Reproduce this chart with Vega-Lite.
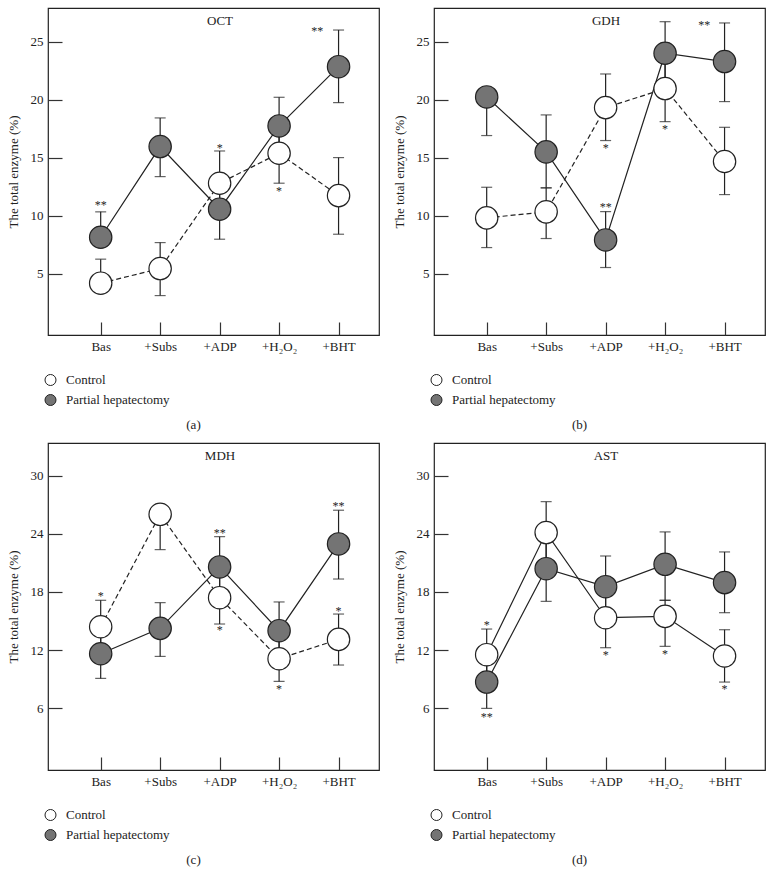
{
  "$schema": "https://vega.github.io/schema/vega-lite/v6.json",
  "background": "white",
  "padding": {"left": 6, "top": 7, "right": 0, "bottom": 0},
  "datasets": {
    "pts": [
      {"p":"a","g":"Control","xi":1,"v":4.17,"lo":4.17,"hi":6.24},
      {"p":"a","g":"Control","xi":2,"v":5.43,"lo":3.1,"hi":7.67},
      {"p":"a","g":"Control","xi":3,"v":12.79,"lo":10.0,"hi":15.57},
      {"p":"a","g":"Control","xi":4,"v":15.37,"lo":12.79,"hi":17.9},
      {"p":"a","g":"Control","xi":5,"v":11.72,"lo":8.39,"hi":15.0},
      {"p":"a","g":"Partial hepatectomy","xi":1,"v":8.13,"lo":8.13,"hi":10.32},
      {"p":"a","g":"Partial hepatectomy","xi":2,"v":15.95,"lo":13.36,"hi":18.42},
      {"p":"a","g":"Partial hepatectomy","xi":3,"v":10.55,"lo":7.96,"hi":13.1},
      {"p":"a","g":"Partial hepatectomy","xi":4,"v":17.73,"lo":15.3,"hi":20.2},
      {"p":"a","g":"Partial hepatectomy","xi":5,"v":22.84,"lo":19.74,"hi":26.0},
      {"p":"b","g":"Control","xi":1,"v":9.8,"lo":7.24,"hi":12.44},
      {"p":"b","g":"Control","xi":2,"v":10.32,"lo":8.02,"hi":12.39},
      {"p":"b","g":"Control","xi":3,"v":19.31,"lo":16.47,"hi":22.21},
      {"p":"b","g":"Control","xi":4,"v":20.95,"lo":18.1,"hi":23.5},
      {"p":"b","g":"Control","xi":5,"v":14.66,"lo":11.81,"hi":17.61},
      {"p":"b","g":"Partial hepatectomy","xi":1,"v":20.23,"lo":16.9,"hi":20.23},
      {"p":"b","g":"Partial hepatectomy","xi":2,"v":15.49,"lo":12.39,"hi":18.68},
      {"p":"b","g":"Partial hepatectomy","xi":3,"v":7.9,"lo":5.52,"hi":10.34},
      {"p":"b","g":"Partial hepatectomy","xi":4,"v":24.0,"lo":21.3,"hi":26.72},
      {"p":"b","g":"Partial hepatectomy","xi":5,"v":23.28,"lo":19.83,"hi":26.61},
      {"p":"c","g":"Control","xi":1,"v":14.41,"lo":12.2,"hi":17.14},
      {"p":"c","g":"Control","xi":2,"v":26.03,"lo":22.38,"hi":26.03},
      {"p":"c","g":"Control","xi":3,"v":17.41,"lo":14.69,"hi":20.0},
      {"p":"c","g":"Control","xi":4,"v":11.1,"lo":8.76,"hi":13.4},
      {"p":"c","g":"Control","xi":5,"v":13.1,"lo":10.45,"hi":15.72},
      {"p":"c","g":"Partial hepatectomy","xi":1,"v":11.62,"lo":9.07,"hi":14.2},
      {"p":"c","g":"Partial hepatectomy","xi":2,"v":14.24,"lo":11.34,"hi":16.9},
      {"p":"c","g":"Partial hepatectomy","xi":3,"v":20.59,"lo":17.5,"hi":23.72},
      {"p":"c","g":"Partial hepatectomy","xi":4,"v":14.0,"lo":11.5,"hi":16.97},
      {"p":"c","g":"Partial hepatectomy","xi":5,"v":22.97,"lo":19.34,"hi":26.45},
      {"p":"d","g":"Control","xi":1,"v":11.52,"lo":9.5,"hi":14.17},
      {"p":"d","g":"Control","xi":2,"v":24.14,"lo":21.0,"hi":27.34},
      {"p":"d","g":"Control","xi":3,"v":15.34,"lo":12.24,"hi":18.0},
      {"p":"d","g":"Control","xi":4,"v":15.48,"lo":12.38,"hi":17.14},
      {"p":"d","g":"Control","xi":5,"v":11.38,"lo":8.69,"hi":14.1},
      {"p":"d","g":"Partial hepatectomy","xi":1,"v":8.69,"lo":5.97,"hi":10.5},
      {"p":"d","g":"Partial hepatectomy","xi":2,"v":20.41,"lo":17.03,"hi":23.5},
      {"p":"d","g":"Partial hepatectomy","xi":3,"v":18.55,"lo":16.0,"hi":21.72},
      {"p":"d","g":"Partial hepatectomy","xi":4,"v":20.86,"lo":17.14,"hi":24.21},
      {"p":"d","g":"Partial hepatectomy","xi":5,"v":18.97,"lo":15.86,"hi":22.14}
    ],
    "stars": [
      {"p":"a","xi":1,"v":11.06,"t":"**"},
      {"p":"a","xi":3,"v":16.03,"t":"*"},
      {"p":"a","xi":4,"v":12.27,"t":"*"},
      {"p":"a","xi":4.64,"v":26.06,"t":"**"},
      {"p":"b","xi":3,"v":16.0,"t":"*"},
      {"p":"b","xi":4,"v":17.6,"t":"*"},
      {"p":"b","xi":3,"v":10.9,"t":"**"},
      {"p":"b","xi":4.66,"v":26.58,"t":"**"},
      {"p":"c","xi":1,"v":17.76,"t":"*"},
      {"p":"c","xi":3,"v":24.28,"t":"**"},
      {"p":"c","xi":3,"v":14.24,"t":"*"},
      {"p":"c","xi":4,"v":8.14,"t":"*"},
      {"p":"c","xi":5,"v":27.07,"t":"**"},
      {"p":"c","xi":5,"v":16.28,"t":"*"},
      {"p":"d","xi":1,"v":14.83,"t":"*"},
      {"p":"d","xi":1,"v":5.28,"t":"**"},
      {"p":"d","xi":3,"v":11.72,"t":"*"},
      {"p":"d","xi":4,"v":11.83,"t":"*"},
      {"p":"d","xi":5,"v":8.17,"t":"*"}
    ]
  },
  "columns": 2,
  "spacing": {"row": 108, "column": 55},
  "bounds": "flush",
  "resolve": {
    "scale": {"x": "independent", "y": "independent", "fill": "independent"},
    "axis": {"x": "independent", "y": "independent"},
    "legend": {"fill": "independent"}
  },
  "concat": [
    {
      "width": 331, "height": 327,
      "title": {"text": "OCT", "offset": -26, "baseline": "middle", "dx": 6.5, "frame": "group"},
      "encoding": {
        "x": {"field": "xi", "type": "quantitative", "scale": {"domain": [0.114, 5.68], "nice": false, "zero": false},
              "axis": {"values": [1,2,3,4,5], "labelExpr": "['','Bas','+Subs','+ADP','+H₂O₂','+BHT'][datum.value]", "title": "(a)", "titleX": 145, "titleY": 89, "titleBaseline": "middle"}},
        "y": {"field": "v", "type": "quantitative", "scale": {"domain": [-0.3, 27.9], "nice": false, "zero": false},
              "axis": {"values": [5,10,15,20,25], "title": "The total enzyme (%)"}}
      },
      "layer": [
        {"data": {"name": "pts"}, "transform": [{"filter": "datum.p === 'a'"}], "mark": {"type": "rule", "color": "#222", "strokeWidth": 1.2},
         "encoding": {"y": {"field": "lo", "type": "quantitative", "scale": {"domain": [-0.3, 27.9], "nice": false, "zero": false}}, "y2": {"field": "hi"}}},
        {"data": {"name": "pts"}, "transform": [{"filter": "datum.p === 'a'"}], "mark": {"type": "tick", "orient": "horizontal", "size": 11, "thickness": 1.2, "color": "#222"},
         "encoding": {"y": {"field": "lo", "type": "quantitative", "scale": {"domain": [-0.3, 27.9], "nice": false, "zero": false}}}},
        {"data": {"name": "pts"}, "transform": [{"filter": "datum.p === 'a'"}], "mark": {"type": "tick", "orient": "horizontal", "size": 11, "thickness": 1.2, "color": "#222"},
         "encoding": {"y": {"field": "hi", "type": "quantitative", "scale": {"domain": [-0.3, 27.9], "nice": false, "zero": false}}}},
        {"data": {"name": "pts"}, "transform": [{"filter": "datum.p === 'a' && datum.g === 'Control'"}], "mark": {"type": "line", "color": "#222", "strokeWidth": 1.2, "strokeDash": [5, 3]}, "encoding": {}},
        {"data": {"name": "pts"}, "transform": [{"filter": "datum.p === 'a' && datum.g !== 'Control'"}], "mark": {"type": "line", "color": "#222", "strokeWidth": 1.2}, "encoding": {}},
        {"data": {"name": "pts"}, "transform": [{"filter": "datum.p === 'a'"}], "mark": {"type": "point", "shape": "circle", "filled": true, "size": 500, "stroke": "#222", "strokeWidth": 1.2, "opacity": 1},
         "encoding": {"fill": {"field": "g", "type": "nominal", "scale": {"domain": ["Control", "Partial hepatectomy"], "range": ["#ffffff", "#747474"]},
                               "legend": {"title": null, "orient": "none", "legendX": -4, "legendY": 365.5}}}},
        {"data": {"name": "stars"}, "transform": [{"filter": "datum.p === 'a'"}], "mark": {"type": "text", "baseline": "alphabetic", "dy": 6, "fontSize": 12, "fill": "#222"},
         "encoding": {"text": {"field": "t"}}}
      ]
    },
    {
      "width": 331, "height": 327,
      "title": {"text": "GDH", "offset": -26, "baseline": "middle", "dx": 6.5, "frame": "group"},
      "encoding": {
        "x": {"field": "xi", "type": "quantitative", "scale": {"domain": [0.114, 5.68], "nice": false, "zero": false},
              "axis": {"values": [1,2,3,4,5], "labelExpr": "['','Bas','+Subs','+ADP','+H₂O₂','+BHT'][datum.value]", "title": "(b)", "titleX": 145, "titleY": 89, "titleBaseline": "middle"}},
        "y": {"field": "v", "type": "quantitative", "scale": {"domain": [-0.3, 27.9], "nice": false, "zero": false},
              "axis": {"values": [5,10,15,20,25], "title": "The total enzyme (%)"}}
      },
      "layer": [
        {"data": {"name": "pts"}, "transform": [{"filter": "datum.p === 'b'"}], "mark": {"type": "rule", "color": "#222", "strokeWidth": 1.2},
         "encoding": {"y": {"field": "lo", "type": "quantitative", "scale": {"domain": [-0.3, 27.9], "nice": false, "zero": false}}, "y2": {"field": "hi"}}},
        {"data": {"name": "pts"}, "transform": [{"filter": "datum.p === 'b'"}], "mark": {"type": "tick", "orient": "horizontal", "size": 11, "thickness": 1.2, "color": "#222"},
         "encoding": {"y": {"field": "lo", "type": "quantitative", "scale": {"domain": [-0.3, 27.9], "nice": false, "zero": false}}}},
        {"data": {"name": "pts"}, "transform": [{"filter": "datum.p === 'b'"}], "mark": {"type": "tick", "orient": "horizontal", "size": 11, "thickness": 1.2, "color": "#222"},
         "encoding": {"y": {"field": "hi", "type": "quantitative", "scale": {"domain": [-0.3, 27.9], "nice": false, "zero": false}}}},
        {"data": {"name": "pts"}, "transform": [{"filter": "datum.p === 'b' && datum.g === 'Control'"}], "mark": {"type": "line", "color": "#222", "strokeWidth": 1.2, "strokeDash": [5, 3]}, "encoding": {}},
        {"data": {"name": "pts"}, "transform": [{"filter": "datum.p === 'b' && datum.g !== 'Control'"}], "mark": {"type": "line", "color": "#222", "strokeWidth": 1.2}, "encoding": {}},
        {"data": {"name": "pts"}, "transform": [{"filter": "datum.p === 'b'"}], "mark": {"type": "point", "shape": "circle", "filled": true, "size": 500, "stroke": "#222", "strokeWidth": 1.2, "opacity": 1},
         "encoding": {"fill": {"field": "g", "type": "nominal", "scale": {"domain": ["Control", "Partial hepatectomy"], "range": ["#ffffff", "#747474"]},
                               "legend": {"title": null, "orient": "none", "legendX": -4, "legendY": 365.5}}}},
        {"data": {"name": "stars"}, "transform": [{"filter": "datum.p === 'b'"}], "mark": {"type": "text", "baseline": "alphabetic", "dy": 6, "fontSize": 12, "fill": "#222"},
         "encoding": {"text": {"field": "t"}}}
      ]
    },
    {
      "width": 331, "height": 327,
      "title": {"text": "MDH", "offset": -26, "baseline": "middle", "dx": 6.5, "frame": "group"},
      "encoding": {
        "x": {"field": "xi", "type": "quantitative", "scale": {"domain": [0.114, 5.68], "nice": false, "zero": false},
              "axis": {"values": [1,2,3,4,5], "labelExpr": "['','Bas','+Subs','+ADP','+H₂O₂','+BHT'][datum.value]", "title": "(c)", "titleX": 145, "titleY": 89, "titleBaseline": "middle"}},
        "y": {"field": "v", "type": "quantitative", "scale": {"domain": [-0.4, 33.4], "nice": false, "zero": false},
              "axis": {"values": [6,12,18,24,30], "title": "The total enzyme (%)"}}
      },
      "layer": [
        {"data": {"name": "pts"}, "transform": [{"filter": "datum.p === 'c'"}], "mark": {"type": "rule", "color": "#222", "strokeWidth": 1.2},
         "encoding": {"y": {"field": "lo", "type": "quantitative", "scale": {"domain": [-0.4, 33.4], "nice": false, "zero": false}}, "y2": {"field": "hi"}}},
        {"data": {"name": "pts"}, "transform": [{"filter": "datum.p === 'c'"}], "mark": {"type": "tick", "orient": "horizontal", "size": 11, "thickness": 1.2, "color": "#222"},
         "encoding": {"y": {"field": "lo", "type": "quantitative", "scale": {"domain": [-0.4, 33.4], "nice": false, "zero": false}}}},
        {"data": {"name": "pts"}, "transform": [{"filter": "datum.p === 'c'"}], "mark": {"type": "tick", "orient": "horizontal", "size": 11, "thickness": 1.2, "color": "#222"},
         "encoding": {"y": {"field": "hi", "type": "quantitative", "scale": {"domain": [-0.4, 33.4], "nice": false, "zero": false}}}},
        {"data": {"name": "pts"}, "transform": [{"filter": "datum.p === 'c' && datum.g === 'Control'"}], "mark": {"type": "line", "color": "#222", "strokeWidth": 1.2, "strokeDash": [5, 3]}, "encoding": {}},
        {"data": {"name": "pts"}, "transform": [{"filter": "datum.p === 'c' && datum.g !== 'Control'"}], "mark": {"type": "line", "color": "#222", "strokeWidth": 1.2}, "encoding": {}},
        {"data": {"name": "pts"}, "transform": [{"filter": "datum.p === 'c'"}], "mark": {"type": "point", "shape": "circle", "filled": true, "size": 500, "stroke": "#222", "strokeWidth": 1.2, "opacity": 1},
         "encoding": {"fill": {"field": "g", "type": "nominal", "scale": {"domain": ["Control", "Partial hepatectomy"], "range": ["#ffffff", "#747474"]},
                               "legend": {"title": null, "orient": "none", "legendX": -4, "legendY": 365.5}}}},
        {"data": {"name": "stars"}, "transform": [{"filter": "datum.p === 'c'"}], "mark": {"type": "text", "baseline": "alphabetic", "dy": 6, "fontSize": 12, "fill": "#222"},
         "encoding": {"text": {"field": "t"}}}
      ]
    },
    {
      "width": 331, "height": 327,
      "title": {"text": "AST", "offset": -26, "baseline": "middle", "dx": 6.5, "frame": "group"},
      "encoding": {
        "x": {"field": "xi", "type": "quantitative", "scale": {"domain": [0.114, 5.68], "nice": false, "zero": false},
              "axis": {"values": [1,2,3,4,5], "labelExpr": "['','Bas','+Subs','+ADP','+H₂O₂','+BHT'][datum.value]", "title": "(d)", "titleX": 145, "titleY": 89, "titleBaseline": "middle"}},
        "y": {"field": "v", "type": "quantitative", "scale": {"domain": [-0.4, 33.4], "nice": false, "zero": false},
              "axis": {"values": [6,12,18,24,30], "title": "The total enzyme (%)"}}
      },
      "layer": [
        {"data": {"name": "pts"}, "transform": [{"filter": "datum.p === 'd'"}], "mark": {"type": "rule", "color": "#222", "strokeWidth": 1.2},
         "encoding": {"y": {"field": "lo", "type": "quantitative", "scale": {"domain": [-0.4, 33.4], "nice": false, "zero": false}}, "y2": {"field": "hi"}}},
        {"data": {"name": "pts"}, "transform": [{"filter": "datum.p === 'd'"}], "mark": {"type": "tick", "orient": "horizontal", "size": 11, "thickness": 1.2, "color": "#222"},
         "encoding": {"y": {"field": "lo", "type": "quantitative", "scale": {"domain": [-0.4, 33.4], "nice": false, "zero": false}}}},
        {"data": {"name": "pts"}, "transform": [{"filter": "datum.p === 'd'"}], "mark": {"type": "tick", "orient": "horizontal", "size": 11, "thickness": 1.2, "color": "#222"},
         "encoding": {"y": {"field": "hi", "type": "quantitative", "scale": {"domain": [-0.4, 33.4], "nice": false, "zero": false}}}},
        {"data": {"name": "pts"}, "transform": [{"filter": "datum.p === 'd' && datum.g === 'Control'"}], "mark": {"type": "line", "color": "#222", "strokeWidth": 1.2}, "encoding": {}},
        {"data": {"name": "pts"}, "transform": [{"filter": "datum.p === 'd' && datum.g !== 'Control'"}], "mark": {"type": "line", "color": "#222", "strokeWidth": 1.2}, "encoding": {}},
        {"data": {"name": "pts"}, "transform": [{"filter": "datum.p === 'd'"}], "mark": {"type": "point", "shape": "circle", "filled": true, "size": 500, "stroke": "#222", "strokeWidth": 1.2, "opacity": 1},
         "encoding": {"fill": {"field": "g", "type": "nominal", "scale": {"domain": ["Control", "Partial hepatectomy"], "range": ["#ffffff", "#747474"]},
                               "legend": {"title": null, "orient": "none", "legendX": -4, "legendY": 365.5}}}},
        {"data": {"name": "stars"}, "transform": [{"filter": "datum.p === 'd'"}], "mark": {"type": "text", "baseline": "alphabetic", "dy": 6, "fontSize": 12, "fill": "#222"},
         "encoding": {"text": {"field": "t"}}}
      ]
    }
  ],
  "config": {
    "font": "Liberation Serif",
    "view": {"stroke": "#222", "strokeWidth": 1.2},
    "axis": {"grid": false, "domain": false, "labelFont": "Liberation Serif", "labelFontSize": 13, "labelColor": "#222",
             "titleFont": "Liberation Serif", "titleFontSize": 13, "titleFontWeight": "normal", "titleColor": "#222",
             "tickColor": "#333", "tickWidth": 1.2},
    "axisY": {"tickSize": -14, "labelPadding": 19, "titlePadding": 10},
    "axisX": {"tickSize": -13, "labelPadding": 18},
    "legend": {"labelFont": "Liberation Serif", "labelFontSize": 13, "labelColor": "#222", "symbolType": "circle", "symbolSize": 121,
               "symbolStrokeColor": "#222", "symbolStrokeWidth": 1, "rowPadding": 5, "labelOffset": 9, "padding": 0},
    "title": {"font": "Liberation Serif", "fontSize": 13, "fontWeight": "normal", "color": "#222"},
    "text": {"font": "Liberation Serif"}
  }
}
